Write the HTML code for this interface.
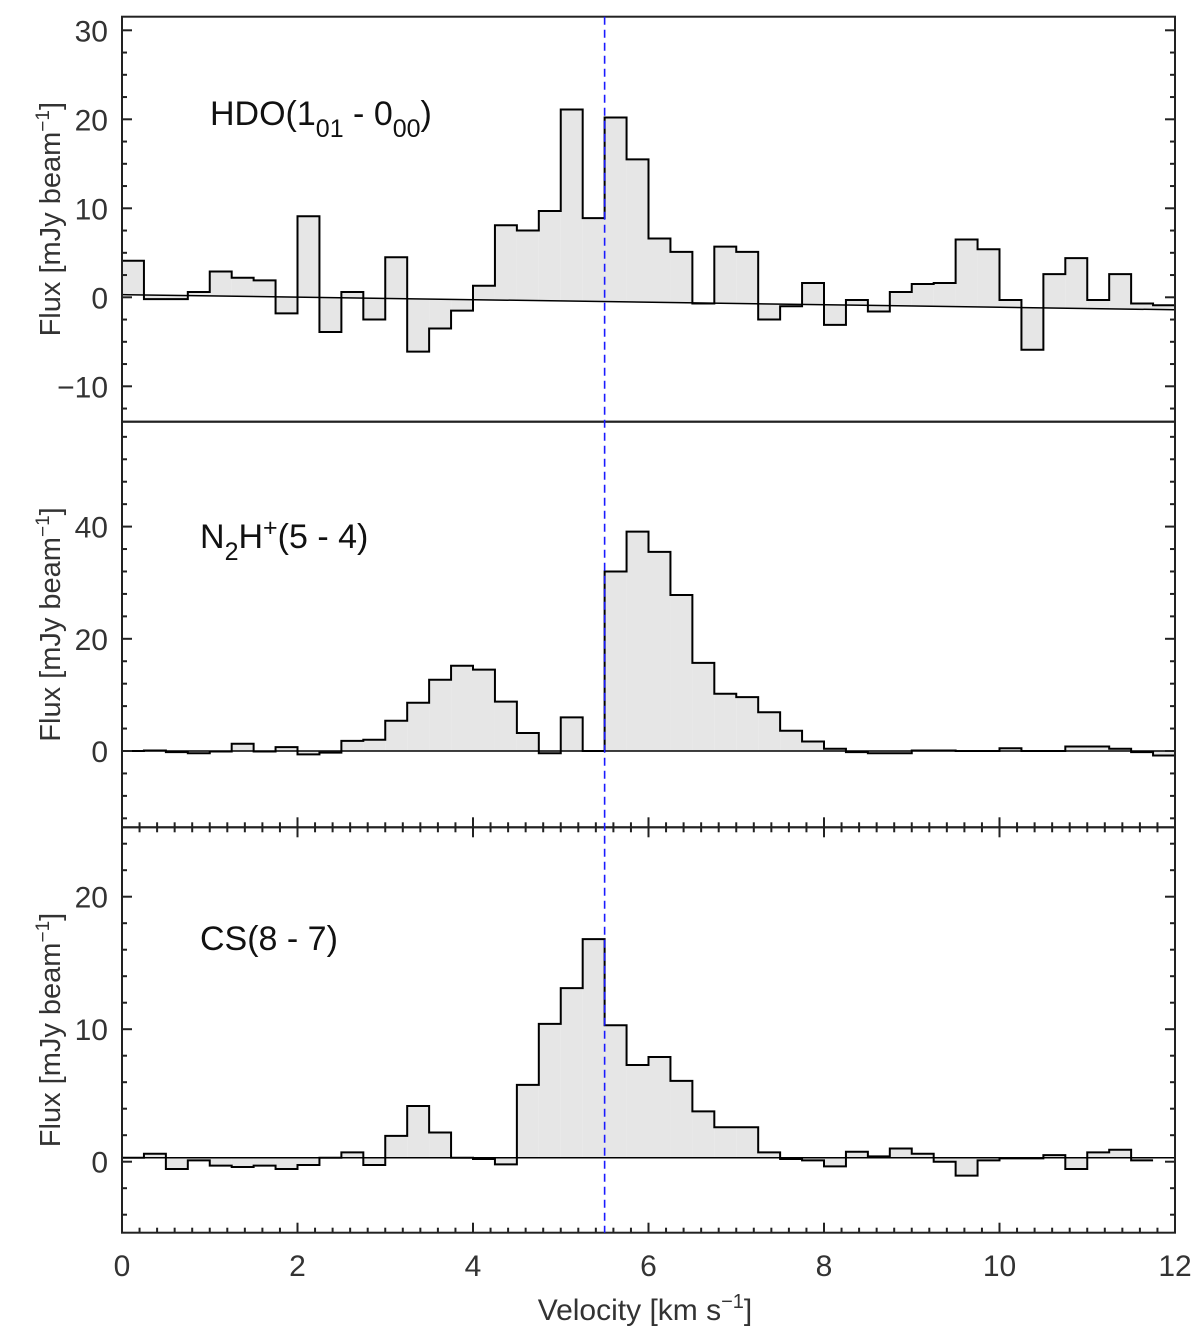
<!DOCTYPE html>
<html><head><meta charset="utf-8"><style>
html,body{margin:0;padding:0;background:#fff;}
svg{display:block;font-family:"Liberation Sans","DejaVu Sans",sans-serif;}
</style></head><body>
<svg id="chart" width="1200" height="1336" viewBox="0 0 1200 1336" xmlns="http://www.w3.org/2000/svg"></svg>
<script>
// ---- data ----
const binWidth = 0.25;
const hdoValues = [4.1,-0.2,-0.2,0.6,2.9,2.2,1.9,-1.8,9.1,-3.9,0.6,-2.5,4.5,-6.1,-3.5,-1.5,1.3,8.1,7.5,9.7,21.1,8.9,20.2,15.5,6.6,5.1,-0.7,5.7,5.1,-2.5,-1.0,1.6,-3.1,-0.3,-1.6,0.6,1.5,1.6,6.5,5.4,-0.3,-5.9,2.6,4.4,-0.3,2.6,-0.7,-0.9];
const hdoBaseline = [0.3,-1.4];
const n2hValues = [0,0.1,-0.2,-0.4,-0.1,1.3,-0.1,0.7,-0.6,-0.3,1.8,2.0,5.4,8.6,12.7,15.2,14.5,8.8,3.2,-0.4,6.0,0,32.0,39.1,35.5,27.8,15.7,10.2,9.6,6.9,3.6,1.7,0.4,-0.2,-0.4,-0.4,0.1,0.1,0,0,0.5,0,0,0.8,0.8,0.4,-0.2,-0.8];
const n2hBaseline = [0,0];
const csValues = [0.3,0.6,-0.55,0.1,-0.3,-0.4,-0.3,-0.55,-0.25,0.3,0.7,-0.25,1.95,4.2,2.2,0.3,0.2,-0.2,5.8,10.4,13.1,16.8,10.3,7.3,7.9,6.1,3.8,2.6,2.6,0.7,0.2,0.1,-0.35,0.75,0.4,1.0,0.6,0.0,-1.05,0.1,0.25,0.25,0.5,-0.55,0.7,0.9,0.1];
const csBaseline = [0.3,0.3];
const xTicks = [0,2,4,6,8,10,12];
const hdoTicks = [-10,0,10,20,30];
const n2hTicks = [0,20,40];
const csTicks = [0,10,20];
const systemicVelocity = 5.5;

// ---- layout ----
const NS = "http://www.w3.org/2000/svg";
const svg = document.getElementById('chart');
const X0 = 122, X1 = 1175, VMIN = 0, VMAX = 12;
function xs(v){ return X0 + (v - VMIN) / (VMAX - VMIN) * (X1 - X0); }
function mk(tag, attrs, parent){
  const e = document.createElementNS(NS, tag);
  for (const k in attrs) e.setAttribute(k, attrs[k]);
  (parent || svg).appendChild(e);
  return e;
}
const panels = [
  {name:'hdo', top:16.7, bottom:421.7, zeroY:297.3, ppu:8.9, vals:hdoValues, base:hdoBaseline, ticks:hdoTicks, minor:2.5, xtTop:false, xtBot:false},
  {name:'n2h', top:421.7, bottom:827.3, zeroY:751, ppu:5.61, vals:n2hValues, base:n2hBaseline, ticks:n2hTicks, minor:4, xtTop:false, xtBot:true},
  {name:'cs', top:827.3, bottom:1232.7, zeroY:1161.7, ppu:13.25, vals:csValues, base:csBaseline, ticks:csTicks, minor:2, xtTop:true, xtBot:true}
];

panels.forEach(p => {
  const g = mk('g', {});
  
  
  const ys = v => p.zeroY - v * p.ppu;
  const baseAt = v => p.base[0] + (p.base[1] - p.base[0]) * (v - VMIN) / (VMAX - VMIN);
  const fg = mk('g', {}, g);
  
  
  p.vals.forEach((v, i) => {
    const a = i * binWidth, b = (i + 1) * binWidth;
    const poly = mk('polygon', {
      points: `${xs(a)},${ys(baseAt(a))} ${xs(a)},${ys(v)} ${xs(b)},${ys(v)} ${xs(b)},${ys(baseAt(b))}`,
      fill:'#e6e6e6', stroke:'none'}, fg);
    
    
  });
  const bl = mk('line', {x1:xs(VMIN), y1:ys(baseAt(VMIN)), x2:xs(VMAX), y2:ys(baseAt(VMAX)), stroke:'#000', 'stroke-width':1.5}, g);
  
  
  let d = '';
  p.vals.forEach((v, i) => {
    const a = i * binWidth, b = (i + 1) * binWidth;
    d += (i === 0 ? `M${xs(a)},${ys(v)}` : `V${ys(v)}`) + `H${xs(b)}`;
  });
  const h = mk('path', {d:d, fill:'none', stroke:'#000', 'stroke-width':2}, g);
  
  
  const vTop = (p.zeroY - p.top) / p.ppu, vBot = (p.zeroY - p.bottom) / p.ppu;
  for (let t = Math.ceil(vBot / p.minor) * p.minor; t <= vTop + 1e-6; t += p.minor) {
    const y = ys(t);
    const major = p.ticks.some(m => Math.abs(m - t) < 1e-6);
    const L = major ? 10 : 5;
    mk('line', {x1:X0, y1:y, x2:X0 + L, y2:y, stroke:'#222', 'stroke-width':2}, g);
    mk('line', {x1:X1, y1:y, x2:X1 - L, y2:y, stroke:'#222', 'stroke-width':2}, g);
  }
  p.ticks.forEach(t => {
    const tl = mk('text', {x:108, y:ys(t) + 11, 'text-anchor':'end', 'font-size':30, fill:'#333'}, g);
    
    
    tl.textContent = t < 0 ? '\u2212' + Math.abs(t) : String(t);
  });
  for (let k = 0; k <= 60; k++) {
    const v = k * 0.2, x = xs(v);
    const major = Math.abs(v - Math.round(v / 2) * 2) < 1e-6;
    const L = major ? 10 : 5;
    if (p.xtBot) mk('line', {x1:x, y1:p.bottom, x2:x, y2:p.bottom - L, stroke:'#222', 'stroke-width':2}, g);
    if (p.xtTop) mk('line', {x1:x, y1:p.top, x2:x, y2:p.top + L, stroke:'#222', 'stroke-width':2}, g);
  }
  const cy = (p.top + p.bottom) / 2;
  const yt = mk('text', {x:0, y:0, transform:`translate(60,${cy}) rotate(-90)`, 'text-anchor':'middle', 'font-size':29, fill:'#333'}, g);
  
  
  yt.innerHTML = 'Flux [mJy beam<tspan dy="-11" font-size="19">\u22121</tspan><tspan dy="11">]</tspan>';
  const fr = mk('rect', {x:X0, y:p.top, width:X1 - X0, height:p.bottom - p.top, fill:'none', stroke:'#222', 'stroke-width':2}, g);
  
  
});

const dl = mk('line', {x1:xs(systemicVelocity), y1:16.7, x2:xs(systemicVelocity), y2:1232.7, stroke:'#1a1aff', 'stroke-width':1.6, 'stroke-dasharray':'8,5'});



xTicks.forEach(t => {
  const tl = mk('text', {x:xs(t), y:1276, 'text-anchor':'middle', 'font-size':30, fill:'#333'});
  
  
  tl.textContent = String(t);
});
const xt = mk('text', {x:645, y:1320, 'text-anchor':'middle', 'font-size':30, fill:'#333'});


xt.innerHTML = 'Velocity [km s<tspan dy="-12" font-size="20">\u22121</tspan><tspan dy="12">]</tspan>';

const l1 = mk('text', {x:210, y:125, 'font-size':34, fill:'#111'});


l1.innerHTML = 'HDO(1<tspan dy="12" font-size="25">01</tspan><tspan dy="-12"> - 0</tspan><tspan dy="12" font-size="25">00</tspan><tspan dy="-12">)</tspan>';
const l2 = mk('text', {x:200, y:548, 'font-size':34, fill:'#111'});


l2.innerHTML = 'N<tspan dy="12" font-size="25">2</tspan><tspan dy="-12">H</tspan><tspan dy="-12" font-size="25">+</tspan><tspan dy="12">(5 - 4)</tspan>';
const l3 = mk('text', {x:200, y:950, 'font-size':34, fill:'#111'});


l3.textContent = 'CS(8 - 7)';
</script>
</body></html>
